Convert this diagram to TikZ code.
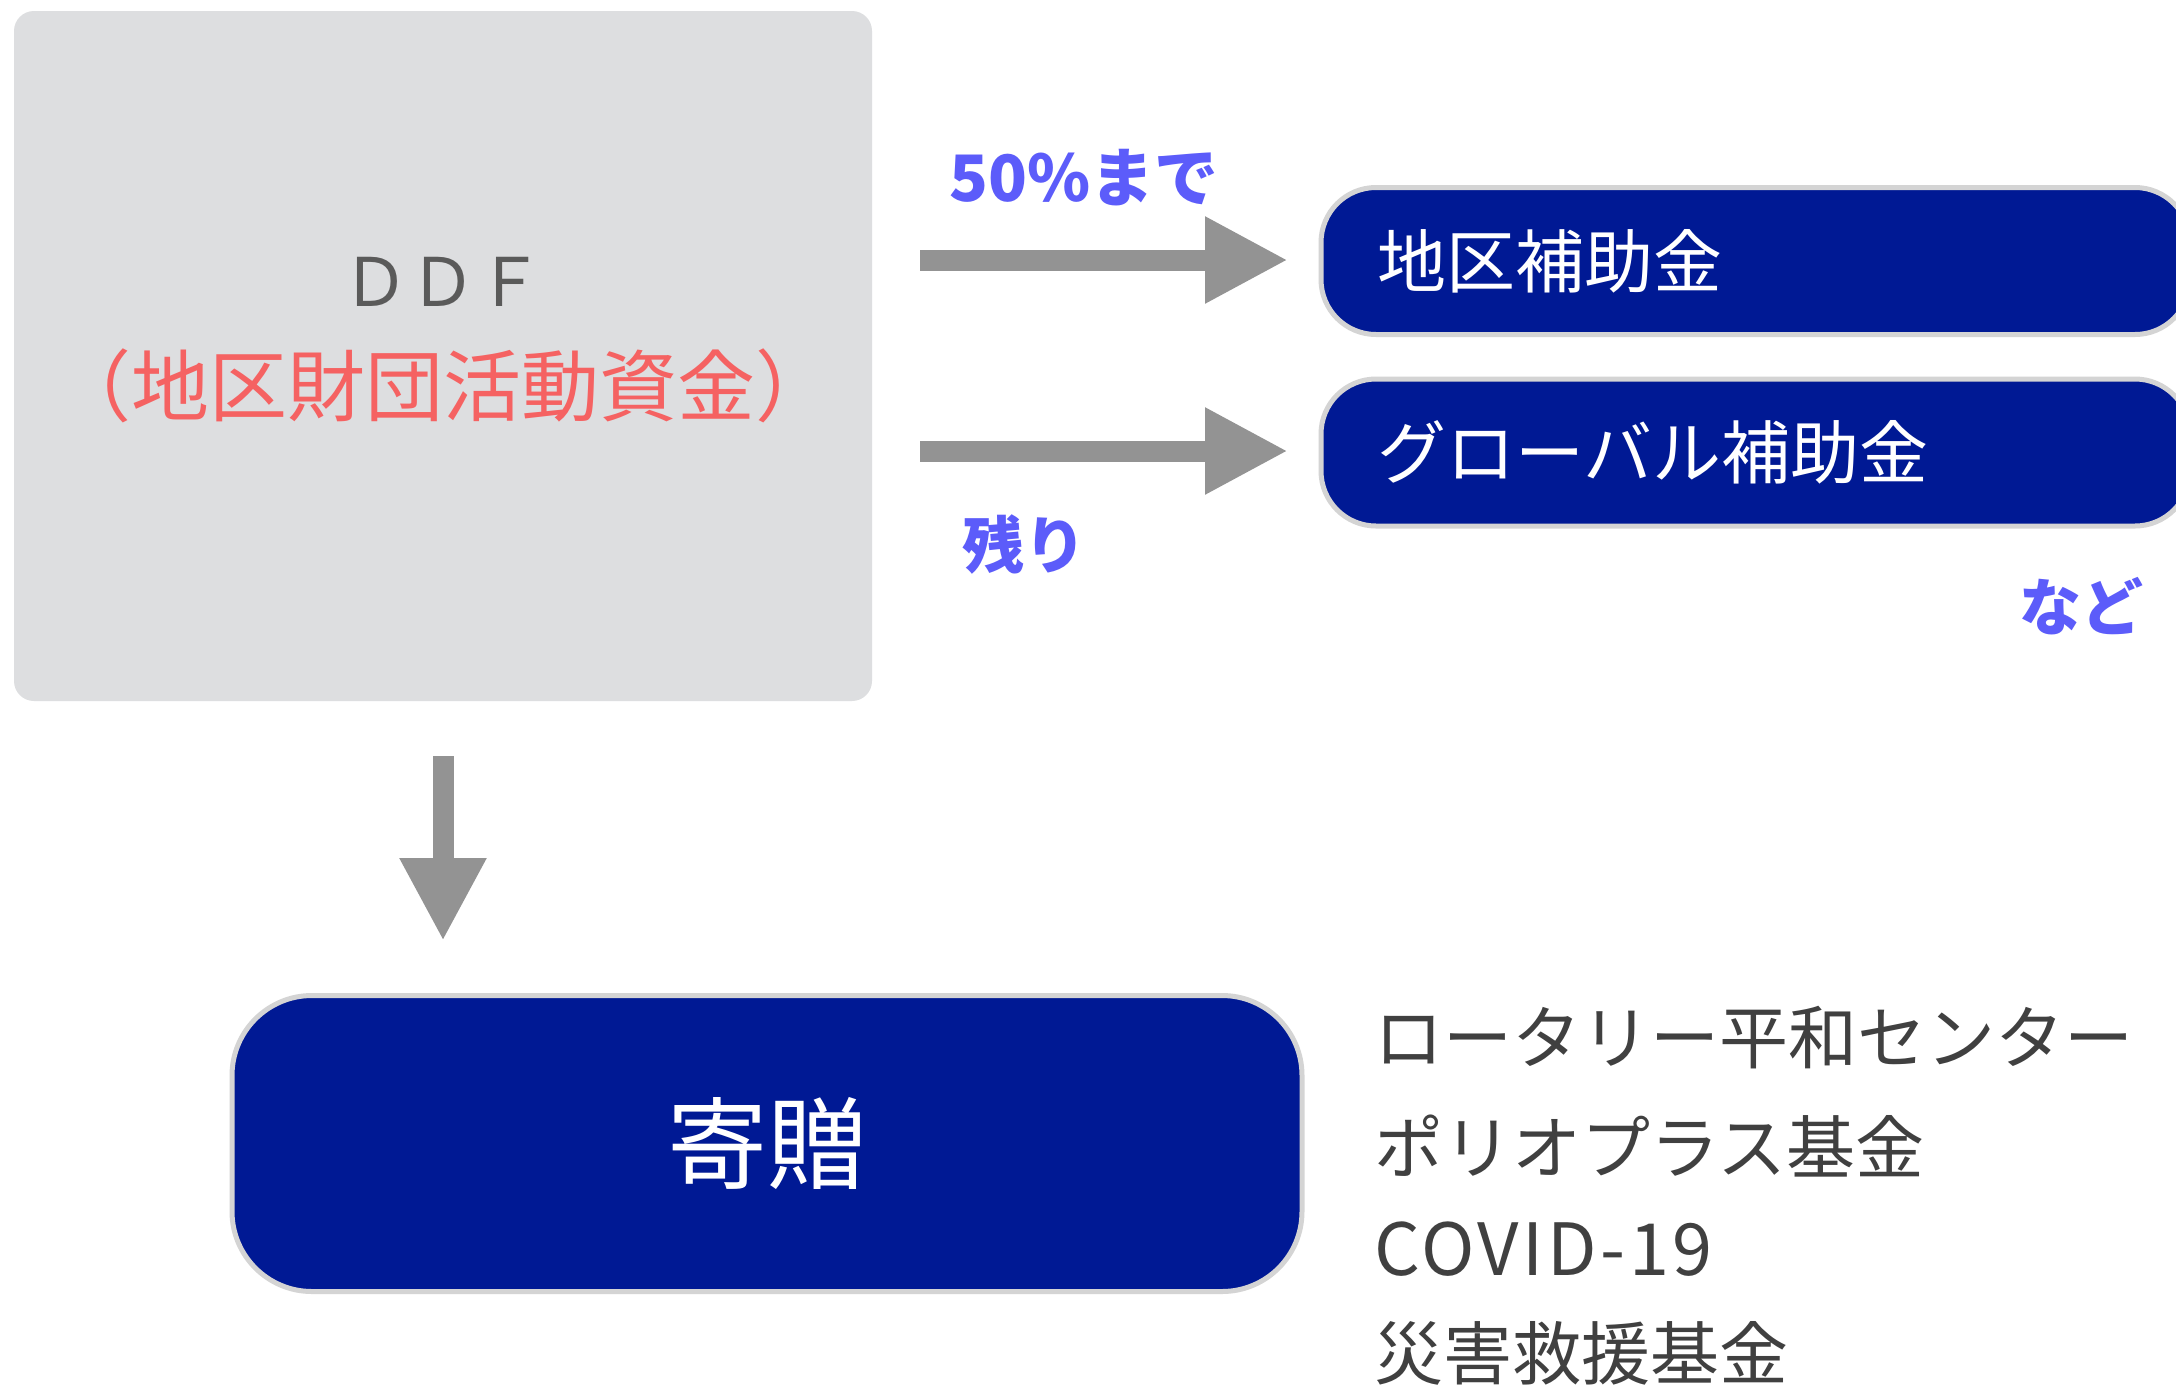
\documentclass[tikz,border=0pt]{standalone}
\usepackage{fontspec}
\setmainfont{Noto Sans CJK JP}
\usetikzlibrary{arrows.meta}
\definecolor{ddfgray}{RGB}{221,222,224}
\definecolor{navy}{RGB}{0,25,148}
\definecolor{rimgray}{RGB}{212,212,212}
\definecolor{arrowgray}{RGB}{147,147,147}
\definecolor{labelblue}{RGB}{92,92,250}
\definecolor{fundred}{RGB}{245,98,98}
\definecolor{ddftext}{RGB}{90,90,90}
\definecolor{listtext}{RGB}{64,64,64}
\begin{document}
\begin{tikzpicture}[x=1pt,y=-1pt,
  srcbox/.style={fill=ddfgray, rounded corners=20pt, minimum width=858pt, minimum height=690pt, inner sep=0pt},
  grantbox/.style={fill=navy, draw=rimgray, line width=5pt, rounded corners=55pt, minimum height=147pt,
    text width=757pt, inner xsep=56pt, inner ysep=0pt, align=left, text=white, font=\fontsize{69}{80}\selectfont},
  donbox/.style={fill=navy, draw=rimgray, line width=5pt, rounded corners=80pt, minimum width=1070pt,
    minimum height=296pt, inner sep=0pt, text=white, font=\fontsize{100}{110}\selectfont},
  flowarrow/.style={draw=arrowgray, line width=21pt, -{Triangle[length=83pt,width=81pt]}},
  bluelabel/.style={text=labelblue, font=\fontsize{62}{72}\selectfont\bfseries, inner sep=0pt},
  listitem/.style={text=listtext, font=\fontsize{69}{80}\selectfont, inner sep=0pt, anchor=west}
]
\useasboundingbox (0,0) rectangle (2176,1385);
\clip (0,0) rectangle (2176,1385);
\fill[white] (0,0) rectangle (2176,1385);

% source box
\node[srcbox] (src) at (443,356) {};
\node[text=ddftext, font=\fontsize{67}{76}\selectfont, inner sep=0pt] (ddf) at (443,282) {ＤＤＦ};
\node[text=fundred, font=\fontsize{78}{88}\selectfont, inner sep=0pt] (fund) at (443,386) {（地区財団活動資金）};

% grant boxes
\node[grantbox] (district) at (1755.5,261) {地区補助金};
\node[grantbox] (global) at (1755.5,452.5) {グローバル補助金};

% donation box
\node[donbox] (donation) at (767,1143.5) {寄贈};

% arrows
\coordinate (a1s) at (920,260);
\coordinate (a1e) at (1288,260);
\coordinate (a2s) at (920,451);
\coordinate (a2e) at (1288,451);
\coordinate (a3s) at (443,756);
\coordinate (a3e) at (443,941);
\draw[flowarrow] (a1s) -- (a1e);
\draw[flowarrow] (a2s) -- (a2e);
\draw[flowarrow] (a3s) -- (a3e);

% labels
\node[bluelabel, font=\fontsize{64}{74}\selectfont\bfseries] (upto) at (1084,178) {50\%まで};
\node[bluelabel] (rest) at (1024,544) {残り};
\node[bluelabel] (etc) at (2081,606) {など};

% list
\node[listitem] (l1) at (1374,1038) {ロータリー平和センター};
\node[listitem] (l2) at (1374,1146) {ポリオプラス基金};
\node[listitem, font=\fontsize{72}{82}\selectfont\addfontfeature{LetterSpace=5}] (l3) at (1374,1249) {COVID-19};
\node[listitem] (l4) at (1374,1353) {災害救援基金};
\end{tikzpicture}
\end{document}
